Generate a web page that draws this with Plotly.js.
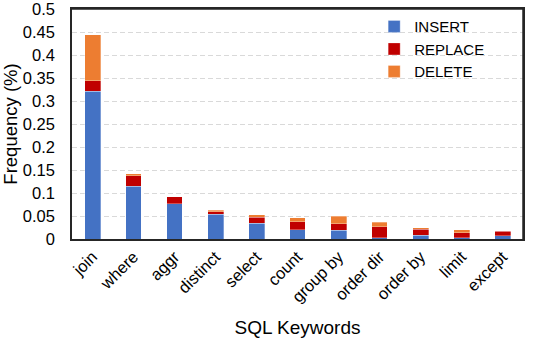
<!DOCTYPE html>
<html>
<head>
<meta charset="utf-8">
<script src="https://cdn.plot.ly/plotly-3.0.1.min.js"></script>
<style>html,body{margin:0;padding:0;background:#fff;}#chart{width:538px;height:339px;}</style>
</head>
<body>
<div id="chart"></div>
<script>
const categories = ["join","where","aggr","distinct","select","count","group by","order dir","order by","limit","except"];
const insertVals  = [0.321, 0.115, 0.077, 0.054, 0.034, 0.020, 0.019, 0.003, 0.008, 0.003, 0.007];
const replaceVals = [0.023, 0.023, 0.015, 0.005, 0.013, 0.017, 0.014, 0.024, 0.013, 0.011, 0.010];
const deleteVals  = [0.100, 0.004, 0.000, 0.004, 0.006, 0.009, 0.016, 0.009, 0.004, 0.006, 0.001];
const yTicks = [0,0.05,0.1,0.15,0.2,0.25,0.3,0.35,0.4,0.45,0.5];
const yTickText = ["0","0.05","0.1","0.15","0.2","0.25","0.3","0.35","0.4","0.45","0.5"];

const fam = "Liberation Sans, Arial, sans-serif";
const tickFont = {family: fam, size: 16.5, color: "#000"};
const legFont = {family: fam, size: 15, color: "#000"};
const titleFont = {family: fam, size: 19, color: "#000"};
const mk = (name, vals, color) => ({
  type: "bar", name: name, x: categories, y: vals,
  marker: {color: color, line: {color: "rgba(255,255,255,0.6)", width: 0.5}},
  hoverinfo: "skip"
});
const data = [
  mk("INSERT", insertVals, "#4472C4"),
  mk("REPLACE", replaceVals, "#C00000"),
  mk("DELETE", deleteVals, "#ED7D31")
];
const frameLine = {color: "#262626", width: 1.5};
const layout = {
  width: 538, height: 339,
  margin: {l: 72, r: 15, t: 9, b: 100, autoexpand: false},
  barmode: "stack",
  bargap: 0.61,
  paper_bgcolor: "#fff", plot_bgcolor: "#fff",
  font: legFont,
  showlegend: true,
  legend: {x: 0.67, y: 0.995, xanchor: "left", yanchor: "top", bgcolor: "rgba(0,0,0,0)",
           traceorder: "normal", font: legFont, tracegroupgap: 0, itemwidth: 30},
  xaxis: {
    tickangle: -45, tickfont: tickFont, showgrid: false, automargin: false,
    showline: true, linecolor: "#262626", linewidth: 1.5, mirror: "all", ticks: "",
    title: {text: "SQL Keywords", font: titleFont, standoff: 16}
  },
  yaxis: {
    range: [0, 0.5], tickvals: yTicks, ticktext: yTickText, tickfont: tickFont, automargin: false,
    ticklabeloverflow: "allow",
    showgrid: true, gridcolor: "#d9d9d9", griddash: "5px,3px", gridwidth: 1,
    showline: true, linecolor: "#262626", linewidth: 1.5, mirror: "all", ticks: "", zeroline: false, ticklabelstandoff: 12,
    title: {text: "Frequency (%)", font: {family: fam, size: 18.5, color: "#000"}, standoff: 4}
  },
  shapes: [
    {type: "line", xref: "paper", yref: "paper", x0: 0, x1: 1, y0: 1, y1: 1, line: frameLine, layer: "above"},
    {type: "line", xref: "paper", yref: "paper", x0: 1, x1: 1, y0: 0, y1: 1, line: frameLine, layer: "above"}
  ]
};
Plotly.newPlot("chart", data, layout, {displayModeBar: false});
</script>
</body>
</html>
